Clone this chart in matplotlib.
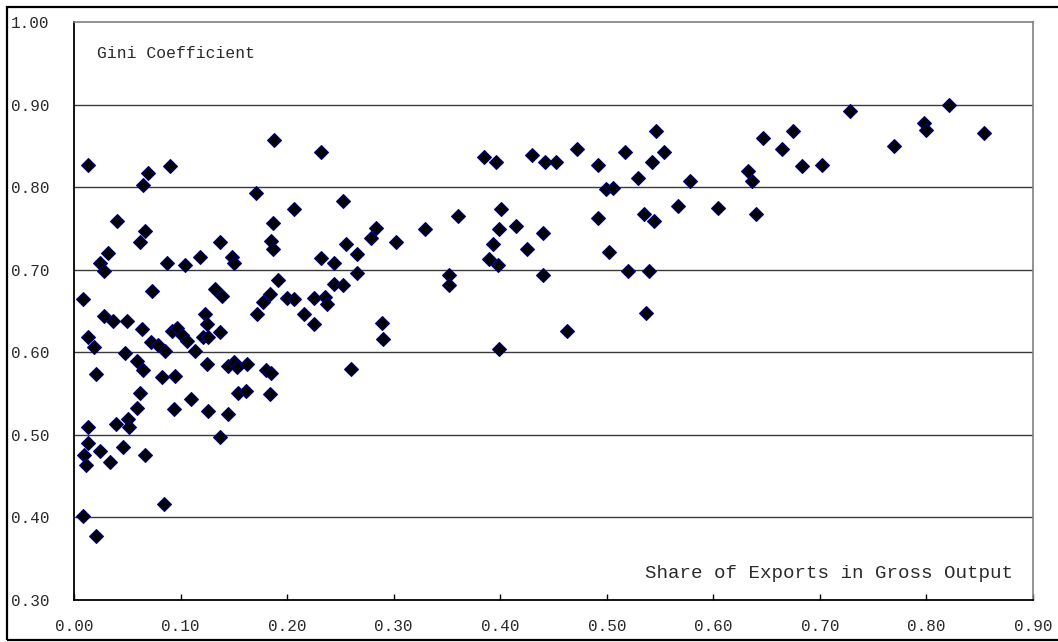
import matplotlib
matplotlib.use("Agg")
import matplotlib.pyplot as plt
from matplotlib.patches import Rectangle

# Share of exports in gross output (x) and Gini coefficient (y)
export_share = [
    0.013, 0.069, 0.065, 0.090, 0.040, 0.067, 0.062, 0.032, 0.024, 0.0285,
    0.087, 0.008, 0.073, 0.028, 0.037, 0.050, 0.064, 0.013, 0.019, 0.072,
    0.0785, 0.085, 0.092, 0.097, 0.101, 0.106, 0.048, 0.059, 0.065, 0.021,
    0.083, 0.095, 0.062, 0.059, 0.0935, 0.013, 0.039, 0.051, 0.052, 0.013,
    0.024, 0.009, 0.011, 0.046, 0.034, 0.067, 0.084, 0.008, 0.021,
    0.1045, 0.118, 0.121, 0.1225, 0.125, 0.126, 0.1245, 0.126, 0.110, 0.114,
    0.132, 0.139, 0.137, 0.137, 0.137, 0.1445, 0.1445, 0.148, 0.150, 0.150,
    0.153, 0.154, 0.161, 0.162, 0.171, 0.172, 0.177, 0.180, 0.184, 0.185,
    0.184, 0.185, 0.187, 0.187, 0.188, 0.191,
    0.200, 0.206, 0.206, 0.216, 0.225, 0.225, 0.232, 0.232, 0.236, 0.237,
    0.244, 0.244, 0.252, 0.252, 0.255, 0.260, 0.266, 0.266, 0.279, 0.283,
    0.289, 0.290, 0.302,
    0.329, 0.360, 0.352, 0.352, 0.385, 0.396, 0.389, 0.393, 0.398, 0.399,
    0.401, 0.399, 0.415, 0.425, 0.430, 0.440, 0.440, 0.442, 0.452, 0.463,
    0.472, 0.492, 0.492, 0.4995, 0.506, 0.502, 0.517, 0.520, 0.529, 0.535,
    0.544, 0.537, 0.540, 0.542, 0.546, 0.554, 0.567, 0.578, 0.604, 0.633,
    0.636, 0.640, 0.647, 0.664, 0.675, 0.683, 0.702, 0.728, 0.770, 0.798,
    0.800, 0.821, 0.854,
]
gini = [
    0.827, 0.817, 0.802, 0.825, 0.759, 0.747, 0.734, 0.720, 0.708, 0.698,
    0.708, 0.664, 0.674, 0.644, 0.638, 0.638, 0.628, 0.618, 0.606, 0.612,
    0.609, 0.601, 0.626, 0.629, 0.621, 0.614, 0.599, 0.589, 0.579, 0.574,
    0.570, 0.571, 0.551, 0.533, 0.531, 0.509, 0.513, 0.519, 0.510, 0.490,
    0.481, 0.476, 0.464, 0.485, 0.467, 0.475, 0.416, 0.402, 0.378,
    0.706, 0.716, 0.619, 0.646, 0.634, 0.618, 0.586, 0.529, 0.543, 0.602,
    0.677, 0.668, 0.733, 0.624, 0.497, 0.525, 0.583, 0.716, 0.708, 0.588,
    0.582, 0.551, 0.553, 0.586, 0.793, 0.646, 0.661, 0.578, 0.671, 0.575,
    0.549, 0.735, 0.725, 0.757, 0.857, 0.688,
    0.666, 0.664, 0.773, 0.646, 0.634, 0.666, 0.714, 0.842, 0.667, 0.658,
    0.708, 0.683, 0.682, 0.783, 0.731, 0.580, 0.719, 0.696, 0.738, 0.751,
    0.636, 0.616, 0.733,
    0.749, 0.765, 0.693, 0.682, 0.836, 0.831, 0.713, 0.731, 0.706, 0.749,
    0.773, 0.604, 0.753, 0.725, 0.839, 0.745, 0.694, 0.830, 0.831, 0.626,
    0.846, 0.827, 0.763, 0.798, 0.799, 0.722, 0.842, 0.698, 0.811, 0.767,
    0.759, 0.648, 0.698, 0.831, 0.868, 0.842, 0.777, 0.807, 0.775, 0.819,
    0.807, 0.767, 0.860, 0.846, 0.868, 0.825, 0.827, 0.892, 0.850, 0.878,
    0.869, 0.900, 0.866,
]

x_ticks = [0.0, 0.1, 0.2, 0.3, 0.4, 0.5, 0.6, 0.7, 0.8, 0.9]
y_ticks = [0.3, 0.4, 0.5, 0.6, 0.7, 0.8, 0.9, 1.0]
y_label = "Gini Coefficient"
x_label = "Share of Exports in Gross Output"

FONT = "Liberation Mono"
TEXT_COLOR = "#2a2a2a"

fig = plt.figure(figsize=(10.58, 6.42), dpi=100)
ax = fig.add_axes([74 / 1058, 42 / 642, (1033 - 74) / 1058, (600 - 22) / 642])

# outer frame of the figure
fig.patches.append(Rectangle((7 / 1058, 2 / 642), 1.2, 633 / 642,
                             transform=fig.transFigure, fill=False,
                             edgecolor="black", linewidth=1.6, zorder=0))

ax.set_xlim(0.0, 0.9)
ax.set_ylim(0.3, 1.0)

for yv in y_ticks[1:-1]:
    ax.axhline(yv, color="#3a3a3a", linewidth=1.0, zorder=1)

ax.scatter(export_share, gini, marker="D", s=7.0 ** 2, facecolor="black",
           edgecolor="#000080", linewidth=0.9, zorder=3, clip_on=False)

ax.set_xticks(x_ticks)
ax.set_xticklabels([f"{v:.2f}" for v in x_ticks], fontfamily=FONT,
                   fontsize=11.5, color=TEXT_COLOR)
ax.set_yticks(y_ticks)
ax.set_yticklabels([f"{v:.2f}" for v in y_ticks], fontfamily=FONT,
                   fontsize=11.5, color=TEXT_COLOR)

ax.tick_params(axis="x", direction="in", length=4, width=1, color="black", pad=14)
ax.tick_params(axis="y", length=0, pad=18)

ax.spines["left"].set_color("black")
ax.spines["left"].set_linewidth(1.3)
ax.spines["bottom"].set_color("black")
ax.spines["bottom"].set_linewidth(1.3)
ax.spines["top"].set_color("#808080")
ax.spines["top"].set_linewidth(1.2)
ax.spines["right"].set_color("#808080")
ax.spines["right"].set_linewidth(1.2)

ax.text(97 / 1058, 1 - 58 / 642, y_label, transform=fig.transFigure,
        fontfamily=FONT, fontsize=11.8, color=TEXT_COLOR, va="baseline", ha="left")
ax.text(1013 / 1058, 1 - 578 / 642, x_label, transform=fig.transFigure,
        fontfamily=FONT, fontsize=13.8, color=TEXT_COLOR, va="baseline", ha="right")

fig.savefig("out.png", dpi=100)
